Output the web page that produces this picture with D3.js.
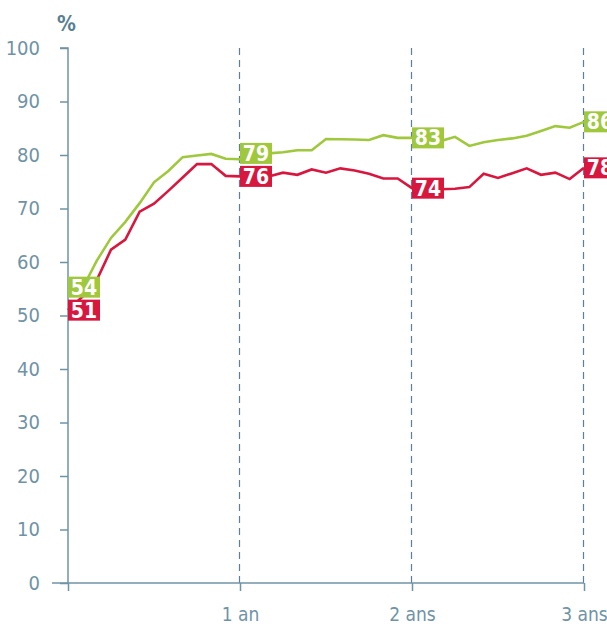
<!DOCTYPE html>
<html>
<head>
<meta charset="utf-8">
<script src="https://cdn.jsdelivr.net/npm/d3@7"></script>
<style>
  body { margin: 0; background: #fff; }
  svg text { font-family: "Liberation Sans Narrow", "DejaVu Sans Condensed", "Liberation Sans", sans-serif; }
</style>
</head>
<body>
<div id="chart"></div>
<script>
const WIDTH = 607, HEIGHT = 627;
const AXIS_COLOR = "#6f93a6";
const GREEN = "#9fc83c", RED = "#d8173f";

// monthly values, month 0 .. 36
const months = d3.range(0, 37);
const greenValues = [54, 55, 60.2, 64.5, 67.5, 71.0, 74.9, 77.0, 79.6, 79.9, 80.2, 79.3, 79.2,
    79.8, 80.3, 80.5, 80.9, 80.9, 83.0, 82.95, 82.9, 82.8, 83.7, 83.2, 83.2,
    82.9, 82.6, 83.4, 81.7, 82.4, 82.8, 83.1, 83.6, 84.5, 85.4, 85.1, 86.2];
const redValues = [51, 53.5, 56.6, 62.3, 64.2, 69.4, 70.9, 73.3, 75.8, 78.3, 78.3, 76.1, 76.0,
    75.7, 76.0, 76.7, 76.3, 77.3, 76.7, 77.5, 77.1, 76.5, 75.6, 75.6, 73.8,
    73.6, 73.6, 73.7, 74.0, 76.5, 75.7, 76.6, 77.5, 76.3, 76.7, 75.5, 77.6];
const labelMonths = [0, 12, 24, 36];
const greenLabels = ["54", "79", "83", "86"];
const redLabels = ["51", "76", "74", "78"];
const yTicks = [0, 10, 20, 30, 40, 50, 60, 70, 80, 90, 100];
const xTicks = [0, 12, 24, 36];
const xTickLabels = ["", "1 an", "2 ans", "3 ans"];

const svg = d3.select("#chart").append("svg")
    .attr("width", WIDTH).attr("height", HEIGHT);

const x = d3.scaleLinear().domain([0, 36]).range([68, 584]);
const y = d3.scaleLinear().domain([0, 100]).range([583, 48]);

// dashed year lines
svg.selectAll("line.year").data(xTicks.slice(1)).enter().append("line")
    .attr("class", "year")
    .attr("x1", d => Math.round(x(d)) - 0.5).attr("x2", d => Math.round(x(d)) - 0.5)
    .attr("y1", y(100)).attr("y2", y(0))
    .attr("stroke", "#5a8195").attr("stroke-width", 1.2)
    .attr("stroke-dasharray", "7,5");

// y axis
const yAxis = svg.append("g")
    .attr("transform", `translate(${x(0)},0)`)
    .call(d3.axisLeft(y).tickValues(yTicks).tickSize(8).tickPadding(20));
yAxis.select(".domain").attr("stroke", AXIS_COLOR).attr("stroke-width", 1.5)
    .attr("d", `M-8,${y(100)}H0V${y(0)}`);
yAxis.selectAll(".tick line").attr("stroke", AXIS_COLOR).attr("stroke-width", 1.5);
yAxis.selectAll(".tick text").attr("fill", AXIS_COLOR).attr("font-size", 20);

// x axis
const xAxis = svg.append("g")
    .attr("transform", `translate(0,${y(0)})`)
    .call(d3.axisBottom(x).tickValues(xTicks).tickSize(8).tickPadding(17)
        .tickFormat((d, i) => xTickLabels[i]));
xAxis.select(".domain").attr("stroke", AXIS_COLOR).attr("stroke-width", 1.5)
    .attr("d", `M52,0H${x(36)}`);
xAxis.selectAll(".tick line").attr("stroke", AXIS_COLOR).attr("stroke-width", 1.5);
xAxis.selectAll(".tick text").attr("fill", AXIS_COLOR).attr("font-size", 19);

svg.append("text").attr("x", 57).attr("y", 31)
    .attr("fill", "#5a7f92").attr("font-weight", "bold").attr("font-size", 21)
    .text("%");

// lines
const line = d3.line().x((d, i) => x(months[i])).y(d => y(d));
svg.append("path").datum(greenValues).attr("d", line)
    .attr("fill", "none").attr("stroke", GREEN).attr("stroke-width", 2.6);
svg.append("path").datum(redValues).attr("d", line)
    .attr("fill", "none").attr("stroke", RED).attr("stroke-width", 2.6);

// value labels
const BOX_W = 32, BOX_H = 21;
const labels = [];
labelMonths.forEach((m, i) => {
    const yr = y(redValues[m]);
    const yg = Math.min(y(greenValues[m]), yr - 23);
    labels.push({ m, cy: yr, text: redLabels[i], color: RED });
    labels.push({ m, cy: yg, text: greenLabels[i], color: GREEN });
});
const lab = svg.selectAll("g.lab").data(labels).enter().append("g")
    .attr("transform", d => `translate(${x(d.m)},${d.cy})`);
lab.append("rect")
    .attr("x", 0).attr("y", -BOX_H / 2)
    .attr("width", BOX_W).attr("height", BOX_H)
    .attr("fill", d => d.color);
lab.append("text")
    .attr("x", BOX_W / 2).attr("y", 7.5)
    .attr("text-anchor", "middle")
    .attr("fill", "#fff").attr("font-weight", "bold").attr("font-size", 21)
    .text(d => d.text);
</script>
</body>
</html>
